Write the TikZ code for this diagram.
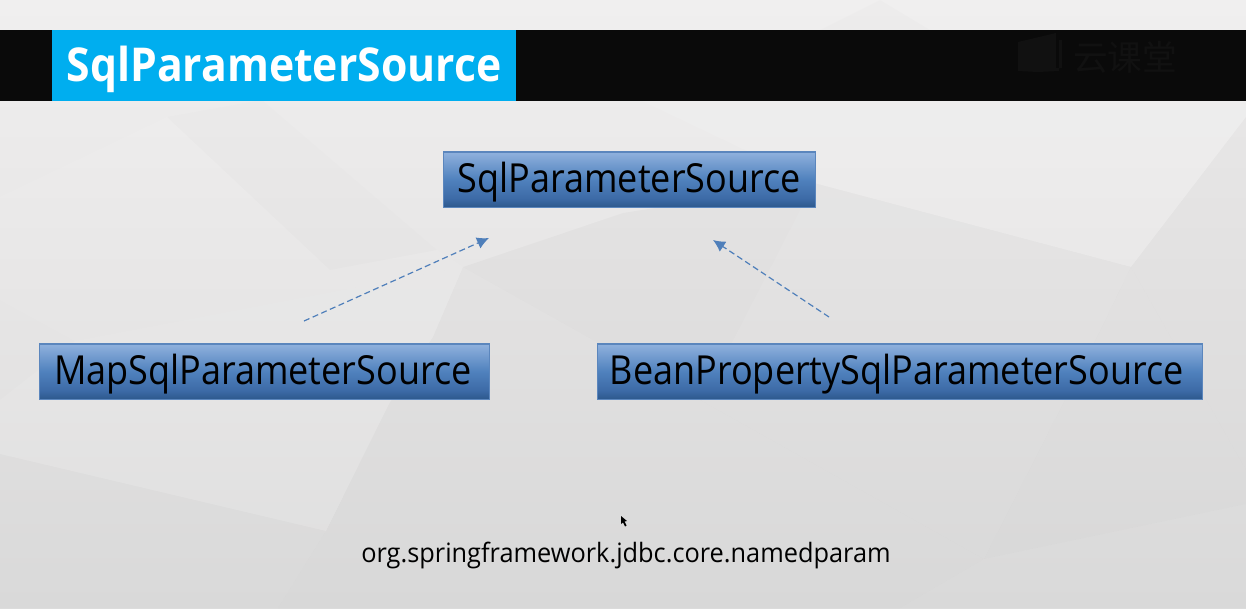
\documentclass[tikz,border=0pt]{standalone}
\usepackage{fontspec}
\setmainfont{Open Sans}
\newfontfamily\cjk{Noto Sans CJK SC}
\newfontfamily\boxfont[FakeStretch=0.90]{Open Sans}
\newfontfamily\titlefont[FakeStretch=0.915]{Open Sans Bold}
\newfontfamily\pkgfont[FakeStretch=0.95]{Open Sans}
\usetikzlibrary{arrows.meta}
\definecolor{boxedge}{HTML}{5B86BD}
\definecolor{flowline}{HTML}{4F7FBA}
\definecolor{bxa}{HTML}{2F5A8F}
\definecolor{bxb}{HTML}{3C6AA6}
\definecolor{bxc}{HTML}{4F81BD}
\definecolor{bxd}{HTML}{8DAFDC}
\definecolor{bgtop}{HTML}{F0EFEF}
\definecolor{bgmid}{HTML}{E6E5E5}
\definecolor{bgbot}{HTML}{DCDCDC}
\definecolor{barblack}{HTML}{0A0A0A}
\definecolor{barblue}{HTML}{00AEEF}
\definecolor{markc}{HTML}{111111}
\pgfdeclareverticalshading{boxshade}{100bp}{
  color(0bp)=(bxa);
  color(26bp)=(bxa);
  color(33bp)=(bxb);
  color(50bp)=(bxc);
  color(74bp)=(bxd);
  color(100bp)=(bxd)}
\tikzset{
  classbox/.style={draw=boxedge,line width=0.9pt,shading=boxshade,text=black,
    minimum height=41.5pt,inner sep=0pt,text height=24pt,text depth=5.4pt,
    font=\boxfont\fontsize{30}{32}\selectfont},
  flow/.style={draw=flowline,line width=0.9pt,dash pattern=on 4.5pt off 2.6pt,
    -{Latex[length=9pt,width=9pt]}},
  facet/.style={draw=none}
}
\begin{document}
\begin{tikzpicture}[x=0.75pt,y=-0.75pt]
\useasboundingbox (0,0) rectangle (1246,608);
% low-poly background
\shade[top color=bgtop,bottom color=bgbot,middle color=bgmid] (0,0) rectangle (1246,608);
\fill[facet,fill=white,opacity=.07] (0,197) -- (167,117) -- (262,100) -- (437,250) -- (463,267) -- (75,341) -- (0,300) -- cycle;
\fill[facet,fill=black,opacity=.012] (167,117) -- (262,100) -- (437,250) -- (330,270) -- cycle;
\fill[facet,fill=white,opacity=.10] (640,100) -- (814,183) -- (1131,267) -- (1246,117) -- (1246,100) -- cycle;
\fill[facet,fill=black,opacity=.025] (463,267) -- (623,213) -- (814,183) -- (1131,267) -- (1100,331) -- (984,559) -- (702,401) -- cycle;
\fill[facet,fill=black,opacity=.02] (1131,267) -- (1246,117) -- (1246,470) -- cycle;
\fill[facet,fill=black,opacity=.02] (1131,267) -- (1246,470) -- (1246,504) -- (984,559) -- (1100,331) -- cycle;
\fill[facet,fill=white,opacity=.07] (702,401) -- (984,559) -- (1100,331) -- (1131,267) -- (814,183) -- cycle;
\fill[facet,fill=black,opacity=.015] (463,267) -- (433,337) -- (389,404) -- (326,531) -- (278,608) -- (900,608) -- (984,559) -- (702,401) -- cycle;
\fill[facet,fill=white,opacity=.08] (75,341) -- (463,267) -- (433,337) -- (389,404) -- (326,531) -- (0,454) -- (0,400) -- cycle;
\fill[facet,fill=black,opacity=.012] (0,454) -- (326,531) -- (278,608) -- (0,608) -- cycle;
\fill[facet,fill=black,opacity=.012] (984,559) -- (1246,504) -- (1246,608) -- (900,608) -- cycle;
\fill[facet,fill=black,opacity=.012] (880,0) -- (930,30) -- (820,30) -- cycle;
% title bar
\fill[barblack] (0,30) rectangle (1246,100.5);
\node[fill=barblue,minimum width=348pt,minimum height=52.8pt,inner sep=0pt,text=white,
  text height=30pt,text depth=5pt,
  font=\titlefont\fontsize{35}{38}\selectfont] (title) at (284,65.3) {SqlParameterSource};
% watermark
\node[text=markc,font=\cjk\fontsize{26}{28}\selectfont,inner sep=0pt] (mark) at (1125,57) {云课堂};
\fill[markc] (1018,42) -- (1056,33) -- (1056,68) -- (1062,68) -- (1062,40) -- (1059,40) -- (1059,71) -- (1038,72) -- (1018,71) -- cycle;
% class boxes
\node[classbox,minimum width=279pt] (src) at (629.2,179.7) {SqlParameterSource};
\node[classbox,minimum width=337.5pt] (map) at (264.2,371.7) {MapSqlParameterSource\hspace*{2.25pt}};
\node[classbox,minimum width=453.75pt] (bean) at (899.7,371.7) {BeanPropertySqlParameterSource\hspace*{4.5pt}};
% connectors
\coordinate (maptail) at (304,321);
\coordinate (maphead) at (489,238);
\coordinate (beantail) at (829,317);
\coordinate (beanhead) at (713,240);
\draw[flow] (maptail) -- (maphead);
\draw[flow] (beantail) -- (beanhead);
% package
\node[text=black,inner sep=0pt,font=\pkgfont\fontsize{20}{22}\selectfont] (pkg) at (626,555) {org.springframework.jdbc.core.namedparam};
% cursor
\fill[black] (621,516) -- (621,524) -- (623,522.5) -- (625,526.5) -- (626.5,525.5) -- (624.5,521.5) -- (627,521) -- cycle;
\end{tikzpicture}
\end{document}
